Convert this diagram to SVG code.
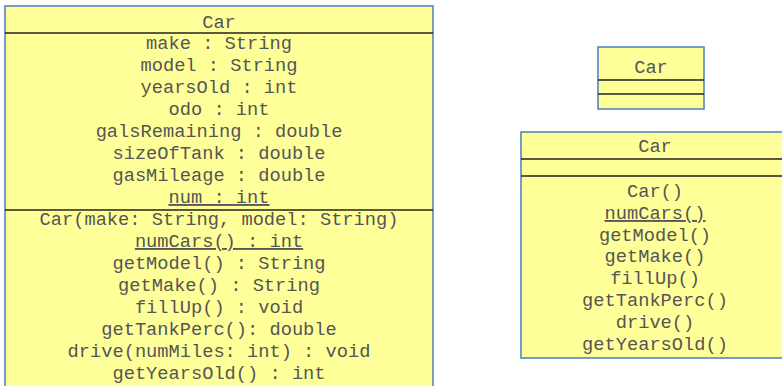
<svg xmlns="http://www.w3.org/2000/svg" width="782" height="386" viewBox="0 0 782 386">
<style>
.box{fill:#ffff99;stroke:#4a7ebb;stroke-width:1.5}
.sep{stroke:#222;stroke-width:1.3}
text{font-family:"Liberation Mono","Courier New",monospace;font-size:18.7px;fill:#555;text-anchor:middle}
.u{text-decoration:underline}
</style>
<g id="car-full">
<rect class="box" x="5" y="6" width="428" height="395"/>
<line class="sep" x1="5" y1="33" x2="433" y2="33"/>
<line class="sep" x1="5" y1="210" x2="433" y2="210"/>
<text x="219" y="28">Car</text>
<text x="219" y="49">make : String</text>
<text x="219" y="71">model : String</text>
<text x="219" y="93">yearsOld : int</text>
<text x="219" y="115">odo : int</text>
<text x="219" y="137">galsRemaining : double</text>
<text x="219" y="159">sizeOfTank : double</text>
<text x="219" y="181">gasMileage : double</text>
<text x="219" y="203" class="u">num : int</text>
<text x="219" y="225">Car(make: String, model: String)</text>
<text x="219" y="247" class="u">numCars() : int</text>
<text x="219" y="269">getModel() : String</text>
<text x="219" y="291">getMake() : String</text>
<text x="219" y="313">fillUp() : void</text>
<text x="219" y="335">getTankPerc(): double</text>
<text x="219" y="357">drive(numMiles: int) : void</text>
<text x="219" y="379">getYearsOld() : int</text>
</g>
<g id="car-small">
<rect class="box" x="598" y="47" width="106" height="62"/>
<line class="sep" x1="598" y1="80" x2="704" y2="80"/>
<line class="sep" x1="598" y1="94" x2="704" y2="94"/>
<text x="651" y="73">Car</text>
</g>
<g id="car-methods">
<rect class="box" x="521" y="132" width="268" height="226"/>
<line class="sep" x1="521" y1="159" x2="789" y2="159"/>
<line class="sep" x1="521" y1="176" x2="789" y2="176"/>
<text x="655" y="152">Car</text>
<text x="655" y="197">Car()</text>
<text x="655" y="219" class="u">numCars()</text>
<text x="655" y="241">getModel()</text>
<text x="655" y="262">getMake()</text>
<text x="655" y="284">fillUp()</text>
<text x="655" y="306">getTankPerc()</text>
<text x="655" y="328">drive()</text>
<text x="655" y="350">getYearsOld()</text>
</g>
</svg>
